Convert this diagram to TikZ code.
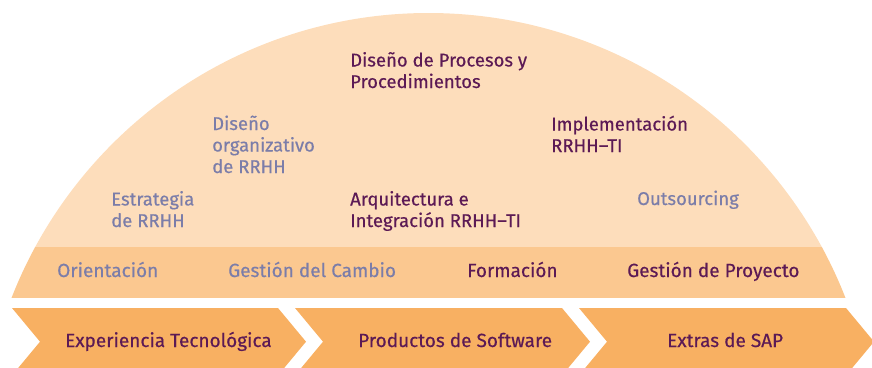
\documentclass[tikz,border=0pt]{standalone}
\usepackage{fontspec}
\setmainfont[FakeBold=0.4]{Fira Sans}
\definecolor{domelight}{HTML}{FDDDBB}
\definecolor{domeband}{HTML}{FBC890}
\definecolor{chevron}{HTML}{F8B062}
\definecolor{plum}{HTML}{5C1A55}
\definecolor{slate}{HTML}{7B7DA9}
\tikzset
 {area/.style = {anchor=base west, inner sep=0pt, align=left,  % texts on the dome
    font=\fontsize{18.5}{21.5}\selectfont},
  core/.style = {area, text=plum},                % dark texts are the core services
  side/.style = {area, text=slate},               % grey-blue texts are the others
  lower/.style = {font=\fontsize{19}{21.5}\selectfont}, % band and arrow labels
  chevron/.style = {fill=chevron}                 % the three arrows at the bottom
 }
\begin{document}
\begin{tikzpicture}[x=1pt, y=-1pt]
    \useasboundingbox (0,0) rectangle (872,367);
    % dome: light top, darker band below
    \begin{scope}
        \clip (0,0) rectangle (872,247);
        \fill[domelight] (428.5,460.4) circle[radius=447.4];
    \end{scope}
    \begin{scope}
        \clip (0,247) rectangle (872,297);
        \fill[domeband] (428.5,460.4) circle[radius=447.4];
    \end{scope}
    % arrows
    \foreach \x/\w in {12/266, 295/267, 579/267}
        \fill[chevron] (\x,308) -- ++(\w,0) -- ++(28,33.7) -- ++(-28,33.7)
            -- ++(-\w,0) -- ++(28,-33.7) -- cycle;
    % services on the dome (base is the last line)
    \node[core] (procesos) at (350,88) {Diseño de Procesos y\\Procedimientos};
    \node[side] (organizativo) at (212,173) {Diseño\\organizativo\\de RRHH};
    \node[core] (implementacion) at (551,152) {Implementación\\RRHH–TI};
    \node[side] (estrategia) at (111,227) {Estrategia\\de RRHH};
    \node[core] (arquitectura) at (350,227) {Arquitectura e\\Integración RRHH–TI};
    \node[side] (outsourcing) at (637,205) {Outsourcing};
    % band
    \node[side, lower] (orientacion) at (57,277) {Orientación};
    \node[side, lower] (cambio) at (228,277) {Gestión del Cambio};
    \node[core, lower] (formacion) at (467,277) {Formación};
    \node[core, lower] (proyecto) at (627,277) {Gestión de Proyecto};
    % arrow labels
    \node[core, lower] (experiencia) at (65,347) {Experiencia Tecnológica};
    \node[core, lower] (productos) at (358,347) {Productos de Software};
    \node[core, lower] (extras) at (667,347) {Extras de SAP};
\end{tikzpicture}
\end{document}
